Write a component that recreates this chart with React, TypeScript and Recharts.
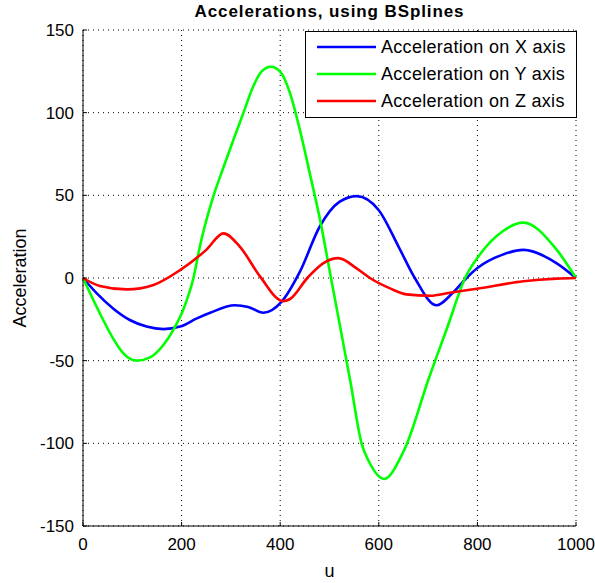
import { LineChart, Line, XAxis, YAxis, CartesianGrid, Label } from "recharts";

// values
const uX = [0, 28, 61, 95, 129, 163, 197, 231, 258, 308, 335, 366, 403, 440, 480, 520, 555, 600, 640, 673, 717, 750, 778, 800, 850, 893, 961, 1000];
const accX = [0, -9.3, -18.4, -25.4, -29.4, -30.9, -29.4, -24.4, -21, -16.5, -17.5, -21, -14.3, 3.8, 31, 46, 49.5, 41, 19, 0, -16.5, -9, 0, 6, 14, 17, 8.9, 0];

const uY = [0, 21, 41, 61, 82, 109, 136, 163, 183, 203, 224, 237, 264, 285, 305, 325, 345, 362, 381, 400, 420, 440, 460, 481, 503, 542, 565, 580, 611, 645, 656, 700, 740, 775, 802, 850, 893, 961, 1000];
const accY = [0, -13.3, -25.4, -36.5, -45.6, -50, -48, -40.5, -31.5, -19.4, 0, 19, 49, 67, 83.5, 99.6, 115.7, 124.8, 127.8, 124.8, 111.7, 89.5, 63.3, 35, 0, -62, -100, -111, -121.5, -108, -101, -62, -29, 0, 13, 28, 33.5, 17, 0];

const uZ = [0, 34, 89, 143, 197, 250, 285, 318, 359, 406, 420, 455, 487, 518, 555, 582, 623, 656, 704, 744, 802, 893, 961, 1000];
const accZ = [0, -4.8, -6.9, -4.2, 4.8, 17, 27, 19, 1, -14, -12.7, 0, 8.9, 12, 5.8, 0, -6.3, -9.9, -10.7, -8.9, -6.3, -2, -0.4, 0];

const uTicks = [0, 200, 400, 600, 800, 1000];
const accTicks = [-150, -100, -50, 0, 50, 100, 150];

const series = [
  { name: "Acceleration on X axis", color: "#0000ff", u: uX, acc: accX },
  { name: "Acceleration on Y axis", color: "#00ff00", u: uY, acc: accY },
  { name: "Acceleration on Z axis", color: "#ff0000", u: uZ, acc: accZ },
];

const font = "'Liberation Sans', Arial, sans-serif";

export default function App() {
  return (
    <div style={{ position: "absolute", left: 0, top: 0, width: 595, height: 583, background: "#fff", fontFamily: font }}>
      <div
        style={{
          position: "absolute", left: 83, width: 493, top: 2, textAlign: "center",
          fontWeight: "bold", fontSize: 17, letterSpacing: 0.9, color: "#000",
        }}
      >
        Accelerations, using BSplines
      </div>
      <LineChart width={595} height={583} margin={{ top: 30, right: 19, left: 0, bottom: 0 }}>
        <CartesianGrid stroke="#000" strokeDasharray="1 4" />
        <XAxis
          type="number"
          dataKey="u"
          domain={[0, 1000]}
          ticks={uTicks}
          height={57}
          tickSize={-4}
          tickMargin={16}
          axisLine={{ stroke: "#000" }}
          tickLine={{ stroke: "#000" }}
          tick={{ fill: "#000", fontSize: 17, fontFamily: font }}
        >
          <Label value="u" position="insideBottom" offset={6} style={{ fill: "#000", fontSize: 18, fontFamily: font }} />
        </XAxis>
        <YAxis
          type="number"
          domain={[-150, 150]}
          ticks={accTicks}
          width={83}
          tickSize={-4}
          tickMargin={13}
          axisLine={{ stroke: "#000" }}
          tickLine={{ stroke: "#000" }}
          tick={{ fill: "#000", fontSize: 17, fontFamily: font }}
        >
          <Label value="Acceleration" angle={-90} position="insideLeft" offset={20} style={{ fill: "#000", fontSize: 18, fontFamily: font, textAnchor: "middle" }} />
        </YAxis>
        {series.map((s) => (
          <Line
            key={s.name}
            data={s.u.map((u, i) => ({ u, v: s.acc[i] }))}
            dataKey="v"
            type="monotone"
            stroke={s.color}
            strokeWidth={2.6}
            dot={false}
            isAnimationActive={false}
          />
        ))}
      </LineChart>
      <div
        style={{
          position: "absolute", left: 305, top: 31, width: 270, height: 85,
          border: "1px solid #000", background: "#fff",
        }}
      >
        {series.map((s, i) => (
          <div key={s.name} style={{ position: "absolute", left: 11, top: 4 + i * 27, height: 22, display: "flex", alignItems: "center" }}>
            <svg width={60} height={6} style={{ display: "block" }}>
              <line x1={0} y1={3} x2={59} y2={3} stroke={s.color} strokeWidth={2.6} />
            </svg>
            <span style={{ marginLeft: 4, fontSize: 18, letterSpacing: 0.3, color: "#000", whiteSpace: "nowrap" }}>{s.name}</span>
          </div>
        ))}
      </div>
    </div>
  );
}
